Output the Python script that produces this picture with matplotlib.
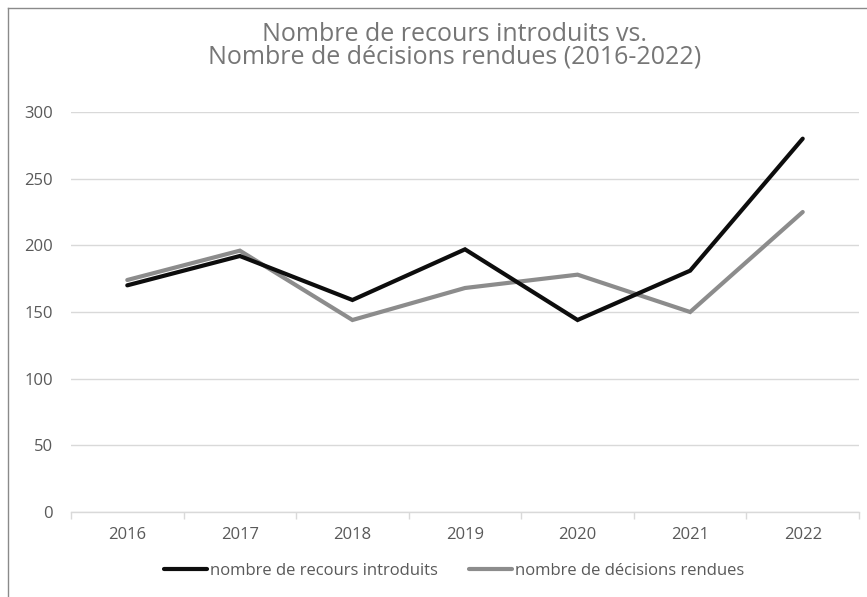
import matplotlib
matplotlib.use("Agg")
import matplotlib.pyplot as plt
from matplotlib.lines import Line2D

years = ["2016", "2017", "2018", "2019", "2020", "2021", "2022"]
recours = [170, 192, 159, 197, 144, 181, 280]
decisions = [174, 196, 144, 168, 178, 150, 225]
yticks = [0, 50, 100, 150, 200, 250, 300]
title = "Nombre de recours introduits vs.\nNombre de décisions rendues (2016-2022)"
label_recours = "nombre de recours introduits"
label_decisions = "nombre de décisions rendues"

FONT = ["Open Sans", "DejaVu Sans"]
plt.rcParams["font.family"] = FONT

W, H = 867, 597
fig = plt.figure(figsize=(W / 100, H / 100), dpi=100)
fig.patch.set_facecolor("white")

left, right = 71 / W, 859 / W
bottom, top = 1 - 512 / H, 1 - 112 / H
ax = fig.add_axes([left, bottom, right - left, top - bottom])

x = list(range(len(years)))
BLACK = "#0d0d0d"
GRAY = "#8c8c8c"
ax.plot(x, decisions, color=GRAY, lw=3.0, solid_capstyle="round", solid_joinstyle="miter", zorder=3)
ax.plot(x, recours, color=BLACK, lw=3.0, solid_capstyle="round", solid_joinstyle="miter", zorder=4)

ax.set_xlim(-0.5, len(years) - 0.5)
ax.set_ylim(0, 300)
ax.set_yticks(yticks)
ax.set_yticklabels([str(v) for v in yticks])
ax.set_xticks(x)
ax.set_xticklabels(years)
ax.set_xticks([i - 0.5 for i in range(len(years) + 1)], minor=True)

ax.grid(axis="y", color="#d9d9d9", lw=1.0)
ax.set_axisbelow(True)
for s in ["top", "right", "left"]:
    ax.spines[s].set_visible(False)
ax.spines["bottom"].set_color("#d9d9d9")
ax.spines["bottom"].set_linewidth(1.0)

ax.tick_params(axis="y", length=0, pad=13, labelsize=12, labelcolor="#595959")
ax.tick_params(axis="x", which="major", length=0, pad=11, labelsize=12, labelcolor="#595959")
ax.tick_params(axis="x", which="minor", length=5, width=1, color="#d9d9d9", direction="out")

fig.text(455 / W, 1 - 46 / H, title, ha="center", va="center", fontsize=18,
         color="#767676", linespacing=0.88)

handles = [Line2D([], [], color=BLACK, lw=3.0, solid_capstyle="round"),
           Line2D([], [], color=GRAY, lw=3.0, solid_capstyle="round")]
leg = fig.legend(handles, [label_recours, label_decisions], loc="center",
                 bbox_to_anchor=(454 / W, 1 - 571 / H), ncol=2, frameon=False,
                 fontsize=12, handlelength=2.6, handletextpad=0.18, columnspacing=1.86,
                 labelcolor="#595959")

# chart border (left and top visible)
fig.add_artist(Line2D([7.5 / W, 7.5 / W], [0, 1 - 8 / H], color="#8a8a8a", lw=1.0))
fig.add_artist(Line2D([7.5 / W, 1], [1 - 8 / H, 1 - 8 / H], color="#8a8a8a", lw=1.0))

fig.savefig("out.png", dpi=100, facecolor="white")
